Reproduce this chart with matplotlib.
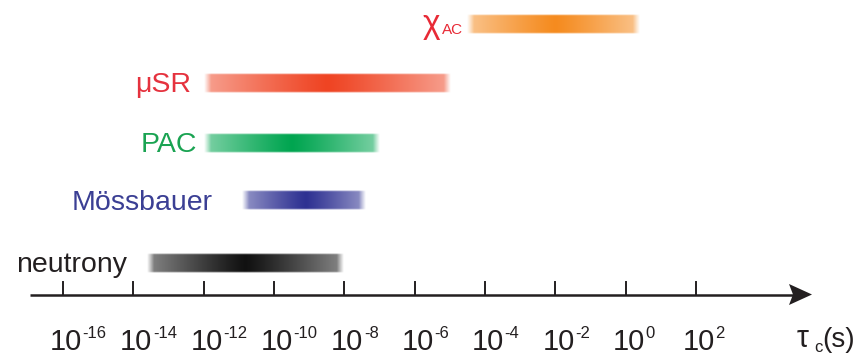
import numpy as np
import matplotlib
matplotlib.use("Agg")
import matplotlib.pyplot as plt
from matplotlib.patches import Polygon

# Time windows of the techniques, log10 of tau_c in seconds
techniques = ["neutrony", "Mössbauer", "PAC", "μSR", "χAC"]
log_lo = [-13.6, -10.9, -12.0, -12.0, -4.5]
log_hi = [-8.0, -7.4, -7.0, -5.0, 0.4]
log_peak = [-10.8, -9.1, -9.5, -8.5, -2.0]
tick_exponents = [-16, -14, -12, -10, -8, -6, -4, -2, 0, 2]

bar_colors = ["#111111", "#2e3192", "#00a550", "#ef4423", "#f58b1f"]
text_colors = ["#231f20", "#3b3f94", "#1aa352", "#e5323e", "#e82a36"]

plt.rcParams["font.family"] = ["Liberation Sans", "DejaVu Sans"]

# pixel layout: x in decades, y in pixels from the top
X0, DEC = 63.0, 35.17          # pixel of 10^-16, pixels per decade
W, H = 860, 356
row_y = [263, 200.5, 143, 83.5, 24.5]
bar_h = 20


def px(p):
    return -16 + (p - X0) / DEC


fig = plt.figure(figsize=(W / 100, H / 100), dpi=100)
ax = fig.add_axes([0, 0, 1, 1])
ax.axis("off")

# gradient bars: full colour at the peak, paler toward the ends, soft edges
for lo, hi, pk, col, yc in zip(log_lo, log_hi, log_peak, bar_colors, row_y):
    n = 600
    xs = np.linspace(lo, hi, n)
    d = np.where(xs < pk, (pk - xs) / (pk - lo), (xs - pk) / (hi - pk))
    mix = 0.5 * d ** 1.15
    base = np.array(matplotlib.colors.to_rgb(col))
    rgb = base[None, :] * (1 - mix[:, None]) + mix[:, None]
    edge = np.minimum(xs - lo, hi - xs) * DEC
    a_x = np.clip(edge / 7.0, 0, 1)
    rows = bar_h * 4
    yy = np.linspace(0, bar_h, rows)
    a_y = np.clip(np.minimum(yy, bar_h - yy) / 1.5, 0, 1)
    img = np.ones((rows, n, 4))
    img[:, :, :3] = rgb[None, :, :]
    img[:, :, 3] = a_y[:, None] * a_x[None, :]
    ax.imshow(img, extent=(lo, hi, yc + bar_h / 2, yc - bar_h / 2),
              aspect="auto", interpolation="bilinear", zorder=2)

# technique labels
label_right = [127, 213, 197, 191]
for name, col, xr, yc in zip(techniques[:4], text_colors[:4], label_right, row_y[:4]):
    ax.text(px(xr), yc + 9, name, color=col, fontsize=20.5,
            ha="right", va="baseline")
ax.text(px(423), 33, "χ", color=text_colors[4], fontsize=24,
        ha="left", va="baseline")
ax.text(px(442), 34, "AC", color=text_colors[4], fontsize=11,
        ha="left", va="baseline")

# time axis with arrow
axis_y = 294.5
ax.plot([px(30), px(795)], [axis_y, axis_y], color="#231f20", lw=1.8,
        solid_capstyle="butt")
ax.add_patch(Polygon([[px(789), axis_y - 10.5], [px(812), axis_y],
                      [px(789), axis_y + 10.5], [px(793), axis_y]],
                     closed=True, color="#231f20", lw=0))
for e in tick_exponents:
    ax.plot([e, e], [axis_y, axis_y - 13], color="#231f20", lw=1.4)
    ax.text(e + 3 / DEC, 350, "10", fontsize=21, color="#231f20",
            ha="center", va="baseline")
    ax.text(e + 19.5 / DEC, 338, str(e), fontsize=12, color="#231f20",
            ha="left", va="baseline")

ax.text(px(797), 347, "τ", fontsize=22, color="#231f20", ha="left", va="baseline")
ax.text(px(814), 351.5, "c", fontsize=12, color="#231f20", ha="left", va="baseline")
ax.text(px(822), 347, "(s)", fontsize=20, color="#231f20", ha="left", va="baseline")

ax.set_xlim(px(0), px(W))
ax.set_ylim(H, 0)

fig.savefig("out.png", dpi=100, facecolor="white")
